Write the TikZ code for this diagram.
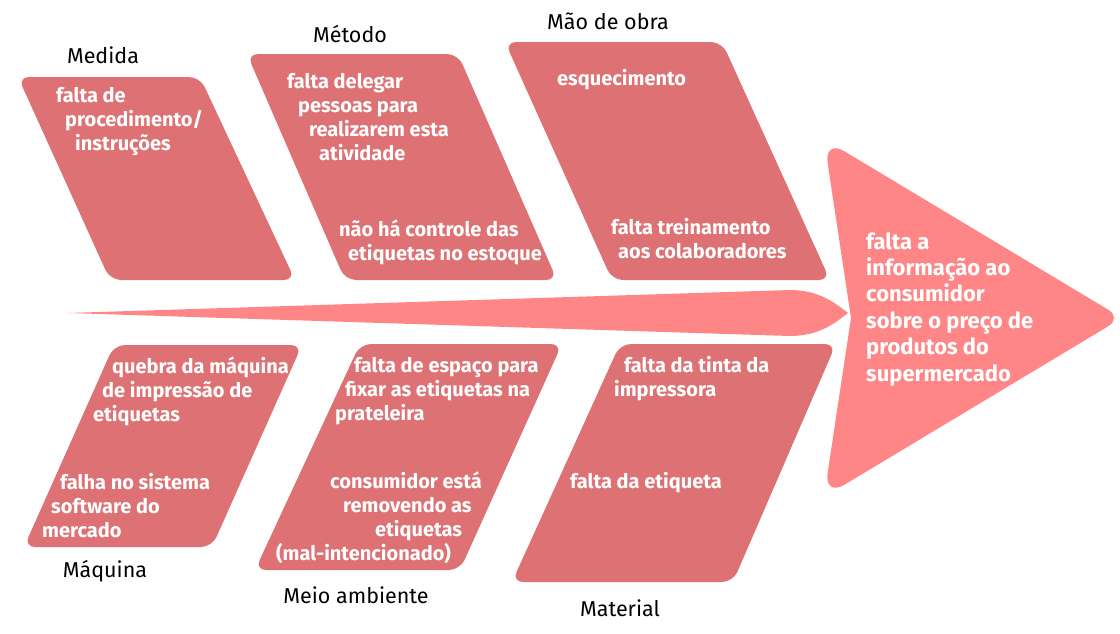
\documentclass[tikz,border=0pt]{standalone}
\usepackage{fontspec}
\setmainfont{Fira Sans}
\definecolor{causefill}{RGB}{221,113,116}
\definecolor{effectfill}{RGB}{255,134,134}

\begin{document}
\begin{tikzpicture}[x=1pt,y=-1pt,
        cause/.style={text=white,font=\bfseries\fontsize{20}{24}\selectfont,align=left,anchor=base west,inner sep=0pt},
        category/.style={text=black,font=\fontsize{21.5}{24}\selectfont,inner sep=0pt},
        bone/.style={fill=causefill,rounded corners=11pt}]
    \useasboundingbox (0,0) rectangle (1120,633);
    % spine and head
    \fill[effectfill] (68,313) -- (790,290) .. controls (818,290) and (834,302) .. (848,313)
        .. controls (834,324) and (818,336) .. (790,336) -- cycle;
    \fill[effectfill] (851,318) [rounded corners=24pt] -- (824,139) [rounded corners=16pt] -- (1122,318)
        [rounded corners=24pt] -- (824,497) [sharp corners] -- cycle;
    % upper bones
    \fill[bone] (18,77) -- (200,77) -- (295,280) -- (110,280) -- cycle;
    \fill[bone] (247,54) -- (458,54) -- (557,280) -- (345,280) -- cycle;
    \fill[bone] (505,42) -- (722,42) -- (830,280) -- (612,280) -- cycle;
    % lower bones
    \fill[bone] (114,345) -- (302,345) -- (212,547) -- (24,547) -- cycle;
    \fill[bone] (360,344) -- (562,344) -- (460,570) -- (255,570) -- cycle;
    \fill[bone] (620,344) -- (836,344) -- (733,582) -- (512,582) -- cycle;

    \begin{scope}[every node/.style={category}]
        \node (medida) at (103,55) {Medida};
        \node (metodo) at (350,34) {Método};
        \node (maodeobra) at (608,21) {Mão de obra};
        \node (maquina) at (105,571) {Máquina};
        \node (meio) at (356,595) {Meio ambiente};
        \node (material) at (620,608) {Material};
    \end{scope}

    % anchors sit on the baseline of the last line
    \begin{scope}[every node/.style={cause}]
        \node (c1) at (56,150) {falta de\\\hspace*{9pt}procedimento/\\\hspace*{19pt}instruções};
        \node (c2) at (287,160) {falta delegar\\\hspace*{11pt}pessoas para\\\hspace*{22pt}realizarem esta\\\hspace*{32pt}atividade};
        \node (c3) at (339,260) {não há controle das\\\hspace*{9pt}etiquetas no estoque};
        \node (c4) at (557,85) {esquecimento};
        \node (c5) at (611,258) {falta treinamento\\\hspace*{7pt}aos colaboradores};
        \node (c6) at (93,421) {\hspace*{19pt}quebra da máquina\\\hspace*{9pt}de impressão de\\etiquetas};
        \node (c7) at (42,537) {\hspace*{18pt}falha no sistema\\\hspace*{9pt}software do\\mercado};
        \node (c8) at (335,420) {\hspace*{19pt}falta de espaço para\\\hspace*{10pt}fixar as etiquetas na\\prateleira};
        \node (c9) at (276,560) {\hspace*{54pt}consumidor está\\\hspace*{67pt}removendo as\\\hspace*{99pt}etiquetas\\(mal-intencionado)};
        \node (c10) at (614,396) {\hspace*{10pt}falta da tinta da\\impressora};
        \node (c11) at (570,488) {falta da etiqueta};
    \end{scope}
    \node[cause,font=\bfseries\fontsize{22}{26.4}\selectfont] (effect) at (866,381)
        {falta a\\informação ao\\consumidor\\sobre o preço de\\produtos do\\supermercado};
\end{tikzpicture}
\end{document}
